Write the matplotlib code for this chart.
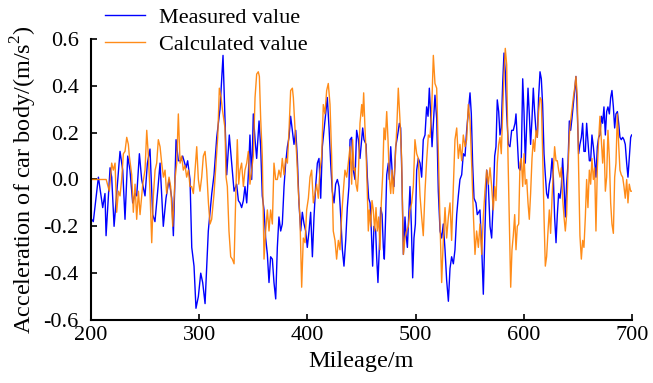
import matplotlib
matplotlib.use("Agg")
import matplotlib.pyplot as plt

plt.rcParams['font.family'] = ['Liberation Serif', 'DejaVu Serif']
plt.rcParams['axes.unicode_minus'] = False
plt.rcParams['mathtext.fontset'] = 'custom'
plt.rcParams['mathtext.rm'] = 'Liberation Serif'

# Measured value (blue)
meas_x = [200.5, 202.1, 206.8, 210.8, 212.9, 213.9, 217.6, 219.1, 221.3, 226.8, 229.3, 231.4, 233.9, 236.0, 238.5,
          240.7, 242.2, 244.7, 246.8, 249.9, 252.1, 254.5, 257.0, 259.1, 261.6, 263.8, 266.8, 269.3, 272.1,
          274.6, 276.1, 278.6, 280.7, 282.9, 284.7, 287.8, 289.3, 291.5, 293.1, 295.2, 297.0, 299.2, 301.4,
          303.2, 305.4, 308.4, 311.6, 313.7, 316.2, 319.2, 322.0,
          323.8, 325.4, 327.8, 330.0, 332.2, 334.6, 336.2, 337.7, 339.2, 340.8, 342.3, 343.9, 345.4, 346.9,
          348.5, 350.0, 351.6, 353.1, 355.3, 356.8, 358.3, 359.9, 361.4, 363.0, 364.5, 366.0, 367.6, 369.1,
          370.7, 372.2, 373.7, 375.3, 376.8, 378.4, 379.9, 381.5, 383.0, 384.5, 386.1, 387.6, 389.2, 390.7,
          392.2, 393.8, 395.3, 396.9, 398.4, 399.9, 401.5, 403.0, 404.6, 406.1, 407.6, 409.2, 410.7, 412.3,
          413.8, 415.3, 416.9, 418.4, 420.0, 421.5, 423.0, 424.6, 426.1, 427.7, 429.2, 430.7, 432.3, 433.8,
          435.4, 436.9, 438.4,
          439.4, 440.9, 442.4, 444.0, 445.5, 447.1, 448.6, 451.1, 452.3, 454.2, 455.4, 456.6, 457.9, 459.1,
          460.3, 461.5, 463.1, 464.0, 465.2, 466.5, 467.7, 469.0, 470.2, 471.1, 472.3, 473.3, 474.8, 475.7,
          477.0, 478.5, 480.0, 481.6, 483.1, 485.0, 486.2, 487.4, 488.7, 490.2, 491.1, 492.4, 493.6, 494.8,
          496.1, 497.3, 498.5, 499.8, 501.0, 502.5, 504.1, 505.6, 507.1, 508.7, 510.2, 511.5, 512.7, 513.9,
          515.2, 516.4, 517.9, 519.5, 521.0, 522.6, 524.1, 525.6, 527.2, 528.7, 530.3, 531.8, 533.3, 534.9,
          536.4, 538.0, 539.5, 541.0, 542.6, 544.1, 545.7, 547.2, 548.7, 550.3, 551.5, 552.7, 554.0, 555.8,
          557.0,
          559.5, 561.1, 562.6, 564.1, 565.7, 567.2, 568.8, 570.3, 571.8, 573.1, 574.3, 575.5, 576.8, 578.0,
          579.2, 580.5, 581.7, 582.9, 584.2, 585.7, 587.2, 588.8, 590.3, 591.9, 592.8, 594.0, 595.3, 596.5,
          597.7, 599.0, 600.2, 601.4, 602.7, 603.9, 605.1, 606.3, 607.6, 608.8, 610.0, 611.3, 612.5, 613.7,
          615.0, 616.2, 617.4, 618.7, 619.9, 621.1, 622.4, 623.6, 624.8, 626.1, 627.3, 628.5, 629.8, 631.0,
          632.2, 633.5, 634.7, 635.9, 637.2, 638.4, 639.6, 640.9, 642.1, 643.3, 644.5, 645.8, 647.0, 648.2,
          649.5, 650.7, 651.9, 653.2, 654.4, 655.6, 656.9, 658.1, 659.3, 660.6, 661.8, 663.0, 664.3, 665.5,
          666.7, 668.0, 669.2, 670.4, 671.7, 672.9, 674.1, 675.4, 676.6, 677.8, 679.1, 680.3, 681.5, 682.8,
          684.0, 685.2, 686.5, 687.7, 688.9, 690.1, 691.4, 692.6, 693.8, 695.1, 696.3, 697.5, 698.8, 699.7]
meas_y = [-0.17, -0.18, 0.01, -0.12, -0.06, -0.24, 0.05, 0.01, -0.20, 0.12, 0.04, -0.17, 0.10, 0.04, -0.10,
          -0.06, -0.07, 0.11, 0.00, -0.07, 0.07, 0.13, -0.15, -0.18, -0.05, 0.07, -0.20, -0.08, 0.00,
          -0.08, -0.24, 0.17, 0.08, 0.08, 0.10, 0.05, 0.08, 0.00, -0.29, -0.37, -0.55, -0.50, -0.40,
          -0.44, -0.53, -0.22, -0.06, 0.02, 0.18, 0.30, 0.53,
          0.26, 0.02, 0.19, 0.07, -0.05, -0.02, -0.09, -0.10, -0.12, -0.09, -0.03, -0.10, 0.02, 0.19,
          0.00, 0.28, 0.17, 0.09, 0.25, 0.14, -0.07, -0.13, -0.25, -0.32, -0.44, -0.33, -0.34, -0.44,
          -0.51, -0.29, -0.16, -0.22, -0.19, -0.03, 0.07, 0.14, 0.18, 0.27, 0.21, 0.15, 0.21, 0.09,
          -0.10, -0.22, -0.14, -0.19, -0.22, -0.29, -0.22, -0.14, -0.33, -0.16, -0.03, 0.07, 0.09, -0.08,
          0.14, 0.21, 0.28, 0.35, 0.22, 0.07, -0.05, -0.10, -0.02, 0.00, -0.03, -0.15, -0.30, -0.37,
          -0.26, -0.12, -0.03,
          0.17, 0.18, 0.04, 0.00, 0.21, 0.17, 0.09, 0.22, 0.17, 0.15, 0.01, -0.08, -0.10, -0.22,
          -0.37, -0.20, -0.22, -0.33, -0.44, -0.29, -0.12, -0.15, -0.29, -0.34, -0.16, 0.02, 0.07, 0.00,
          0.14, 0.02, -0.03, 0.14, 0.18, 0.24, 0.22, 0.00, -0.32, -0.16, -0.23, -0.29, -0.16, -0.03,
          -0.20, -0.42, -0.25, -0.19, 0.04, 0.09, 0.07, 0.01, 0.17, 0.19, 0.31, 0.27, 0.39, 0.28,
          0.14, 0.24, 0.36, 0.26, -0.05, -0.22, -0.25, -0.19, -0.30, -0.43, -0.52, -0.38, -0.33, -0.36,
          -0.30, -0.15, -0.07, 0.00, 0.02, 0.11, 0.10, 0.21, 0.29, 0.37, 0.28, 0.07, -0.08, -0.10,
          -0.15,
          -0.13, -0.29, -0.49, -0.22, 0.04, -0.02, -0.20, -0.25, -0.09, 0.10, 0.14, 0.34, 0.29, 0.19,
          0.22, 0.41, 0.54, 0.46, 0.28, 0.15, 0.14, 0.21, 0.21, 0.24, 0.28, 0.17, 0.05, 0.04,
          0.09, 0.43, 0.29, 0.07, 0.24, 0.39, 0.28, 0.15, 0.26, 0.39, 0.29, 0.21, 0.18, 0.35,
          0.46, 0.43, 0.32, 0.11, 0.02, -0.06, -0.08, -0.02, 0.01, 0.09, 0.01, -0.16, -0.27, -0.15,
          -0.06, -0.08, -0.03, 0.09, -0.03, -0.16, -0.02, 0.07, 0.25, 0.21, 0.26, 0.32, 0.38, 0.44,
          0.28, 0.11, 0.15, 0.18, 0.24, 0.12, 0.12, 0.24, 0.16, 0.08, 0.08, 0.19, 0.14, 0.08,
          0.01, 0.14, 0.18, 0.19, 0.27, 0.24, 0.31, 0.19, 0.29, 0.31, 0.28, 0.35, 0.38, 0.31,
          0.22, 0.28, 0.29, 0.24, 0.18, 0.17, 0.18, 0.17, 0.15, 0.07, 0.01, 0.09, 0.18, 0.19]

# Calculated value (orange)
calc_x = [200.0, 214.0, 216.9, 219.1, 220.6, 222.2, 223.7, 225.3, 226.8, 228.3, 229.9, 231.4, 233.0, 234.5,
          235.4, 237.6, 239.1, 240.7, 242.2, 243.8, 245.3, 247.8, 249.9, 251.5, 253.0, 254.5, 256.1, 257.6,
          259.2, 260.7, 262.2, 263.8, 265.3, 266.9, 268.4, 269.9, 272.1, 273.6, 275.5, 277.6, 279.2, 280.7,
          282.3, 283.8, 285.3, 286.9, 288.4, 290.0, 291.5, 293.0, 294.6, 296.1, 297.7, 299.2, 300.7, 302.3,
          303.8, 305.4, 306.9, 308.5, 310.0, 311.5, 313.7, 315.5, 317.1, 318.6, 320.2, 321.7,
          323.8, 324.8, 326.0, 327.5, 329.1, 330.6, 332.2, 333.1, 334.0, 335.2, 336.5, 337.7, 339.2, 340.8,
          342.3, 343.9, 345.4, 346.9, 348.5, 350.0, 351.6, 353.1, 354.6, 355.6, 356.8, 358.3, 359.9, 361.4,
          363.0, 364.5, 366.0, 367.6, 369.1, 370.7, 372.2, 373.7, 375.3, 376.8, 378.4, 379.9, 381.5, 383.0,
          384.5, 386.1, 387.0, 388.5, 390.1, 391.6, 393.1, 394.7, 396.2, 397.8, 399.3, 400.9, 402.4, 403.9,
          405.5, 407.0, 408.5, 410.1, 411.6, 413.2, 414.7, 416.2, 417.8, 419.3, 420.9, 422.4, 423.9, 425.5,
          427.0, 428.6, 430.1, 431.6, 433.2, 434.7, 436.3, 437.8,
          439.4, 440.9, 441.8, 443.1, 444.0, 444.9, 446.2, 447.1, 448.6, 450.2, 451.1, 452.0, 453.2, 454.2,
          455.4, 456.3, 457.2, 458.5, 459.7, 460.9, 462.2, 463.4, 464.6, 465.9, 467.1, 468.3, 469.6, 470.8,
          472.0, 473.3, 474.5, 475.7, 477.0, 478.2, 479.4, 481.0, 482.5, 484.0, 485.6, 487.1, 488.7, 490.2,
          491.7, 493.3, 494.8, 496.4, 497.9, 499.4, 501.0, 502.5, 504.1, 505.6, 507.1, 508.7, 510.2, 511.8,
          513.3, 514.8, 516.4, 517.9, 519.5, 521.0, 522.6, 524.1, 525.6, 527.2, 528.7, 530.3, 531.8, 533.3,
          534.9, 536.4, 538.0, 539.5, 541.0, 542.6, 544.1, 545.7, 547.2, 548.7, 550.3, 551.8, 553.4, 554.9,
          556.4, 558.0,
          559.5, 561.1, 562.6, 564.1, 565.7, 567.2, 568.8, 570.3, 571.8, 573.1, 574.3, 575.5, 576.8, 578.0,
          579.2, 580.5, 581.7, 582.9, 584.2, 585.4, 586.6, 587.9, 589.1, 590.3, 591.6, 592.8, 594.0, 595.3,
          596.5, 597.7, 599.0, 600.2, 601.4, 602.7, 603.9, 605.1, 606.3, 607.6, 608.8, 610.0, 611.3, 612.5,
          613.7, 615.0, 616.2, 617.4, 618.7, 619.9, 621.1, 622.4, 623.6, 624.8, 626.1, 627.3, 628.5, 629.8,
          631.0, 632.2, 633.5, 634.7, 635.9, 637.2, 638.4, 639.6, 640.9, 642.1, 643.3, 644.5, 645.8, 647.0,
          648.2, 649.5, 650.7, 651.9, 653.2, 654.4, 655.6, 656.9, 658.1, 659.3, 660.6, 661.8, 663.0, 664.3,
          665.5, 666.7, 668.0, 669.2, 670.4, 671.7, 672.9, 674.1, 675.4, 676.6, 677.8, 679.1, 680.3, 681.5,
          682.8, 684.0, 685.2, 686.5, 687.7, 688.9, 690.1, 691.4, 692.6, 693.8, 695.1, 696.3, 697.5, 698.8,
          699.7]
calc_y = [0.00, 0.00, -0.05, 0.07, 0.04, 0.07, -0.14, -0.05, -0.07, 0.00, 0.11, 0.12, 0.18, 0.15,
          0.10, 0.02, -0.14, -0.02, -0.17, -0.05, -0.15, -0.02, 0.04, 0.21, 0.10, -0.05, -0.27, -0.07,
          0.04, 0.07, 0.17, 0.14, 0.07, 0.01, 0.04, -0.06, 0.01, -0.03, -0.20, 0.00, 0.07, 0.28,
          0.07, 0.10, 0.04, 0.06, 0.01, 0.04, -0.03, -0.03, -0.06, 0.04, 0.14, 0.00, -0.05, 0.01,
          0.10, 0.12, 0.04, -0.10, -0.19, -0.17, -0.06, 0.07, 0.18, 0.39, 0.35, 0.29,
          0.22, 0.01, -0.03, -0.22, -0.33, -0.34, -0.36, -0.19, -0.03, 0.17, -0.02, 0.04, 0.07, -0.03,
          0.04, 0.07, 0.12, -0.02, 0.04, 0.10, 0.35, 0.45, 0.46, 0.44, 0.26, 0.10, -0.34, -0.22,
          -0.13, -0.22, -0.13, -0.19, 0.07, 0.00, 0.00, 0.04, 0.01, 0.09, 0.02, 0.09, 0.07, 0.21,
          0.38, 0.39, 0.35, 0.22, 0.10, -0.05, -0.16, -0.46, -0.25, -0.27, -0.13, -0.08, 0.01, 0.04,
          -0.10, -0.06, -0.02, -0.08, 0.04, 0.10, 0.32, 0.28, 0.38, 0.41, 0.32, 0.10, -0.22, -0.26,
          -0.34, -0.26, -0.30, -0.16, -0.05, 0.04, 0.01, 0.07,
          0.14, -0.02, 0.17, 0.04, 0.05, -0.02, -0.05, 0.02, 0.24, 0.32, 0.27, 0.37, 0.22, 0.12,
          -0.06, -0.22, -0.13, -0.20, -0.09, -0.13, -0.22, -0.12, -0.22, -0.16, -0.30, -0.10, 0.02, 0.22,
          0.17, 0.29, 0.17, 0.01, -0.06, 0.04, -0.06, 0.07, 0.21, 0.39, 0.25, 0.09, -0.32, -0.25,
          -0.22, -0.20, -0.13, -0.10, -0.03, 0.17, 0.11, 0.09, -0.07, -0.16, -0.24, -0.05, 0.08, 0.19,
          0.18, 0.29, 0.53, 0.41, 0.39, 0.12, -0.19, -0.44, -0.26, -0.12, -0.25, -0.16, -0.10, -0.26,
          -0.03, 0.17, 0.22, 0.09, 0.15, 0.08, 0.19, 0.14, 0.17, 0.32, 0.25, 0.07, -0.15, -0.32,
          -0.22, -0.29,
          -0.19, -0.32, -0.16, -0.05, 0.04, -0.02, 0.05, -0.03, -0.13, -0.03, -0.09, 0.07, 0.15, 0.18,
          0.11, 0.28, 0.45, 0.56, 0.49, 0.10, -0.16, -0.46, -0.30, -0.24, -0.15, -0.30, -0.20, -0.19,
          0.07, 0.09, -0.03, 0.11, -0.02, 0.00, -0.10, -0.17, -0.06, 0.09, 0.17, 0.12, 0.21, 0.18,
          0.29, 0.35, 0.34, 0.12, -0.16, -0.37, -0.33, -0.22, -0.13, -0.23, -0.08, 0.04, 0.14, 0.08,
          0.08, 0.04, 0.01, 0.05, -0.08, -0.16, -0.22, -0.15, 0.04, 0.19, 0.25, 0.30, 0.35, 0.39,
          0.44, 0.35, 0.04, -0.24, -0.34, -0.26, -0.29, -0.16, 0.00, -0.12, 0.04, -0.02, 0.09, 0.00,
          0.05, -0.22, 0.05, 0.17, 0.27, 0.17, 0.07, 0.17, -0.05, 0.01, 0.21, 0.09, -0.10, -0.19,
          -0.23, 0.01, 0.07, 0.28, 0.15, 0.04, 0.02, 0.01, -0.03, -0.08, 0.00, -0.10, -0.02, -0.05,
          -0.05]

x_ticks = [200, 300, 400, 500, 600, 700]
y_ticks = [-0.6, -0.4, -0.2, 0.0, 0.2, 0.4, 0.6]

fig = plt.figure(figsize=(6.53, 3.83), dpi=100)
ax = fig.add_axes([0.1394, 0.1645, 0.8284, 0.7337])

ax.plot(meas_x, meas_y, color='#0000ff', lw=1.0, label='Measured value')
ax.plot(calc_x, calc_y, color='#ff8000', lw=1.0, alpha=0.9, label='Calculated value')

ax.set_xlim(200, 700)
ax.set_ylim(-0.6, 0.6)
ax.set_xticks(x_ticks)
ax.set_yticks(y_ticks)
ax.set_yticklabels([f"{v:.1f}" for v in y_ticks])

for s in ['top', 'right']:
    ax.spines[s].set_visible(False)
for s in ['left', 'bottom']:
    ax.spines[s].set_linewidth(1.5)

ax.tick_params(axis='both', direction='in', length=4, width=1.2, labelsize=16)
ax.tick_params(axis='y', pad=9)
ax.tick_params(axis='x', pad=4)

ax.set_xlabel('Mileage/m', fontsize=17.5, labelpad=5)
ax.set_ylabel('Acceleration of car body/(m/s$^2$)', fontsize=17.5, labelpad=3)

leg = ax.legend(loc='upper left', bbox_to_anchor=(0.01, 1.145), frameon=False,
                fontsize=16, handlelength=1.8, handletextpad=0.6, labelspacing=0.3,
                borderaxespad=0.0)

fig.savefig('out.png', dpi=100)
